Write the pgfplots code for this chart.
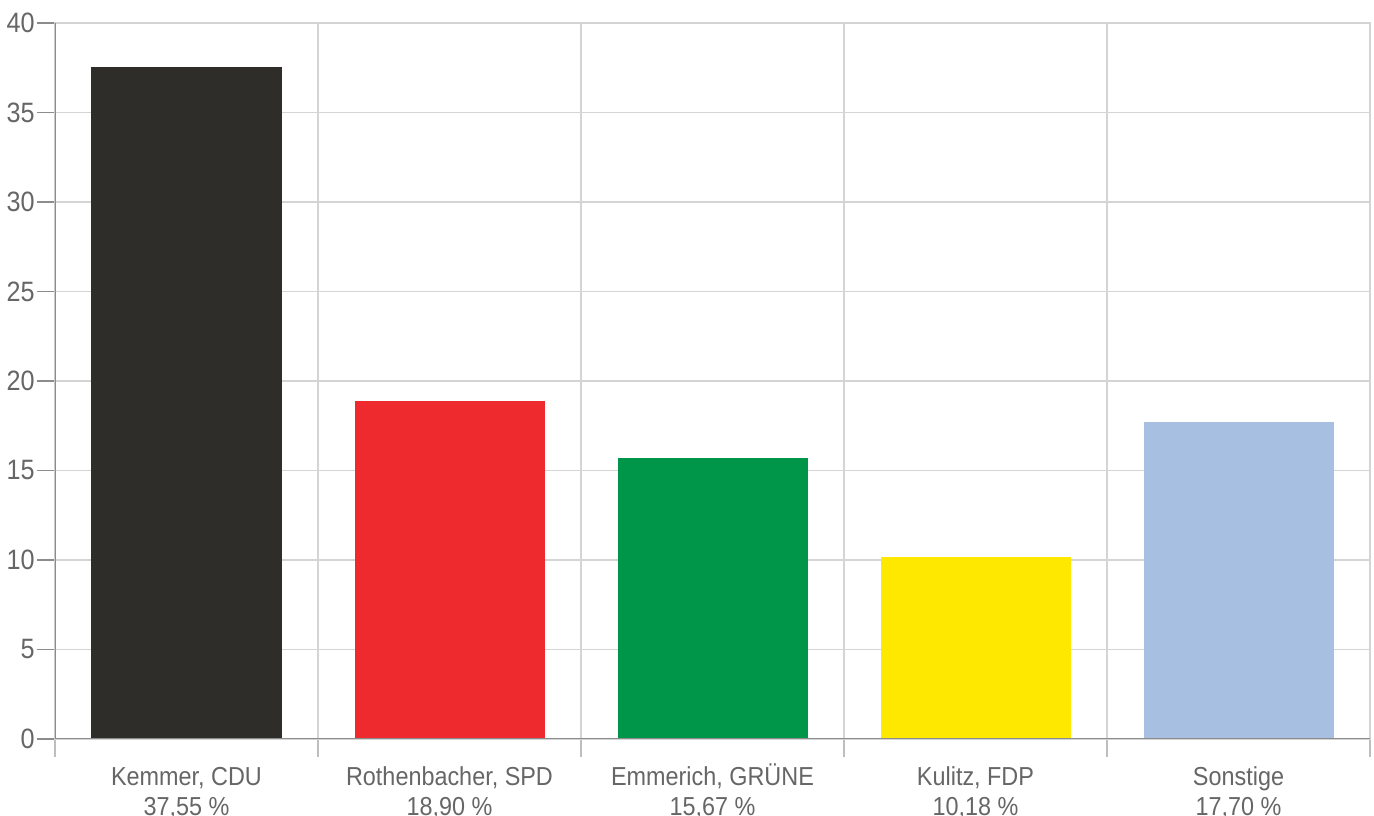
\documentclass[border=0pt]{standalone}
\usepackage{pgfplots}
\pgfplotsset{compat=1.18}
\usepackage{fontspec}
\setmainfont{Liberation Sans}[FakeStretch=0.9]

\definecolor{cdu}{HTML}{2F2D2A}
\definecolor{spd}{HTML}{EE2A2F}
\definecolor{gruene}{HTML}{00964A}
\definecolor{fdp}{HTML}{FFE800}
\definecolor{sonst}{HTML}{A7BFE1}
\definecolor{gridc}{HTML}{D4D4D4}
\definecolor{axisc}{HTML}{8C8C8C}
\definecolor{txt}{HTML}{666666}
\newcommand\ls{\rule{0pt}{10pt}}

\begin{document}
\begin{tikzpicture}
\begin{axis}[
    scale only axis,
    width=657.5pt, height=358pt,
    xmin=-0.5, xmax=4.5,
    ymin=0, ymax=40,
    ytick={0,5,...,40},
    ytick pos=left,
    xtick pos=bottom,
    xtick={-0.5,0.5,1.5,2.5,3.5,4.5},
    xticklabels={},
    xmajorgrids,
    x tick style={draw=gridc!70!axisc, line width=0.8pt},
    extra x ticks={0,1,2,3,4},
    extra x tick labels={{\ls Kemmer, CDU\\37,55 \%},{\ls Rothenbacher, SPD\\18,90 \%},{\ls Emmerich, GR\smash{Ü}NE\\15,67 \%},{\ls Kulitz, FDP\\10,18 \%},{\ls Sonstige\\17,70 \%}},
    extra x tick style={major tick length=0pt, grid=none, tick style={draw=none}},
    tick align=outside,
    ymajorgrids,
    grid style={draw=gridc, line width=0.8pt},
    y tick style={draw=axisc, line width=0.8pt},
    major tick length=9pt,
    axis line style={draw=gridc, line width=0.8pt},
    /pgf/number format/assume math mode=true,
    ticklabel style={text=txt},
    yticklabel style={inner sep=1pt, font=\fontsize{14}{16}\selectfont},
    xticklabel style={align=center, anchor=north, inner sep=0pt, yshift=-13pt, font=\fontsize{13}{15}\selectfont},
    ybar, bar width=95pt, bar shift=0pt,
]
\addplot[fill=cdu, draw=none] coordinates {(0,37.55)};
\addplot[fill=spd, draw=none] coordinates {(1,18.90)};
\addplot[fill=gruene, draw=none] coordinates {(2,15.67)};
\addplot[fill=fdp, draw=none] coordinates {(3,10.18)};
\addplot[fill=sonst, draw=none] coordinates {(4,17.70)};
\draw[axisc, line width=0.8pt] (rel axis cs:0,1) -- (rel axis cs:0,0) -- (rel axis cs:1,0);
\end{axis}
\pgfresetboundingbox
\path[use as bounding box] ([xshift=-27.5pt, yshift=-38.5pt]current axis.south west) rectangle ([xshift=2pt, yshift=11.5pt]current axis.north east);
\end{tikzpicture}
\end{document}
